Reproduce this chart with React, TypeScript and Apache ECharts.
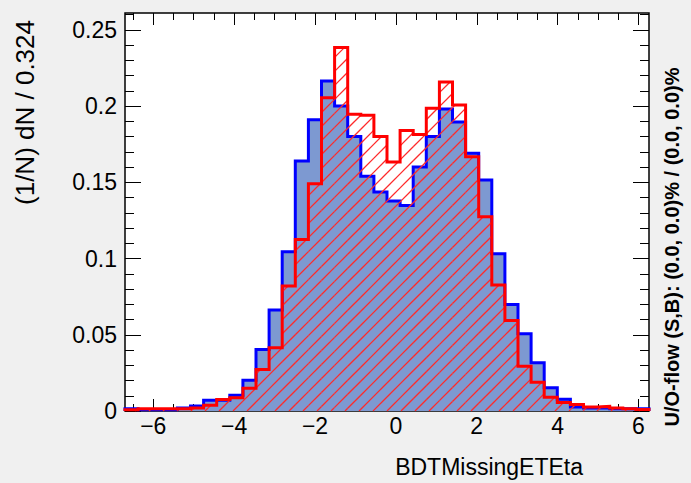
import React, { useEffect, useRef } from "react";
import * as echarts from "echarts";

// Histogram binning: 40 bins of width 0.324
const X_MIN = -6.7;
const BIN_WIDTH = 0.324;
const N_BINS = 40;
const X_MAX = X_MIN + N_BINS * BIN_WIDTH;
const Y_MAX = 0.261;

// Normalised bin contents, signal (blue, filled)
const SIGNAL = [
  0.0015, 0.0008, 0.0008, 0.0008, 0.002, 0.0032, 0.007, 0.007, 0.0104, 0.0202,
  0.0404, 0.0662, 0.1044, 0.164, 0.191, 0.2164, 0.2, 0.18, 0.154, 0.1436,
  0.1377, 0.1348, 0.16, 0.18, 0.198, 0.1895, 0.169, 0.1515, 0.1031, 0.0699,
  0.0506, 0.0316, 0.0152, 0.0077, 0.0027, 0.002, 0.002, 0.0015, 0.0015, 0.0015,
];

// Normalised bin contents, background (red, hatched)
const BACKGROUND = [
  0.0008, 0.0015, 0.0015, 0.0015, 0.0015, 0.002, 0.0038, 0.0075, 0.0087, 0.015,
  0.0272, 0.0415, 0.0819, 0.1125, 0.149, 0.2055, 0.2383, 0.1946, 0.1939, 0.18,
  0.1633, 0.184, 0.1814, 0.1985, 0.2158, 0.2007, 0.1668, 0.1274, 0.0826, 0.0594,
  0.0294, 0.0189, 0.009, 0.0055, 0.0043, 0.0027, 0.003, 0.002, 0.0015, 0.001,
];

const X_MAJOR = [-6, -4, -2, 0, 2, 4, 6];
const X_MINOR = [
  -6.5, -5.5, -5, -4.5, -3.5, -3, -2.5, -1.5, -1, -0.5,
  0.5, 1, 1.5, 2.5, 3, 3.5, 4.5, 5, 5.5,
];
const Y_MAJOR = [0, 0.05, 0.1, 0.15, 0.2, 0.25];
const Y_MINOR = [
  0.01, 0.02, 0.03, 0.04, 0.06, 0.07, 0.08, 0.09, 0.11, 0.12, 0.13, 0.14,
  0.16, 0.17, 0.18, 0.19, 0.21, 0.22, 0.23, 0.24, 0.26,
];

const Y_TITLE = "(1/N) dN / 0.324";
const X_TITLE = "BDTMissingETEta";
const OVERFLOW_TEXT = "U/O-flow (S,B): (0.0, 0.0)% / (0.0, 0.0)%";

const FONT = "'Liberation Sans', Arial, Helvetica, sans-serif";
const SIG_FILL = "#7d99d1";
const SIG_LINE = "#0000ff";
const BKG_LINE = "#ff0000";
const HATCH_COLOR = "#ff2a2a";
const HATCH_STEP = 14; // px between hatch lines, measured horizontally

const EDGES = Array.from({ length: N_BINS + 1 }, (_, k) => X_MIN + k * BIN_WIDTH);

// Step outline points: left edge of each bin at its content, closed down to zero at both ends
function outline(vals: number[]): number[][] {
  const pts: number[][] = [[EDGES[0], 0]];
  vals.forEach((v, k) => pts.push([EDGES[k], v]));
  pts.push([EDGES[N_BINS], vals[N_BINS - 1]]);
  pts.push([EDGES[N_BINS], 0]);
  return pts;
}

const fmtX = (v: number) => (v < 0 ? "\u2212" + Math.abs(v) : String(v));

function tickAxis(kind: "x" | "y", position: string, values: number[], length: number, labels: boolean) {
  return {
    type: "value",
    position,
    min: kind === "x" ? X_MIN : 0,
    max: kind === "x" ? X_MAX : Y_MAX,
    axisLine: { show: false, onZero: false },
    splitLine: { show: false },
    axisTick: {
      show: true,
      inside: true,
      length,
      customValues: values,
      lineStyle: { color: "#000", width: 1 },
    },
    axisLabel: labels
      ? {
          show: true,
          customValues: values,
          color: "#000",
          fontFamily: FONT,
          fontSize: 23,
          margin: kind === "x" ? 3 : 8,
          formatter: kind === "x" ? fmtX : (v: number) => String(v),
        }
      : { show: false },
  } as any;
}

export default function App() {
  const ref = useRef<HTMLDivElement>(null);

  useEffect(() => {
    if (!ref.current) return;
    const chart = echarts.init(ref.current, null, { renderer: "svg" });

    const option: any = {
      animation: false,
      backgroundColor: "#f0f0f0",
      grid: {
        left: 125,
        top: 13,
        right: 42,
        bottom: 72,
        show: true,
        backgroundColor: "#ffffff",
        borderColor: "#000",
        borderWidth: 1.5,
        containLabel: false,
      },
      xAxis: [
        tickAxis("x", "bottom", X_MAJOR, 12, true),
        tickAxis("x", "bottom", X_MINOR, 7, false),
        tickAxis("x", "top", X_MAJOR, 12, false),
        tickAxis("x", "top", X_MINOR, 7, false),
      ],
      yAxis: [
        tickAxis("y", "left", Y_MAJOR, 16, true),
        tickAxis("y", "left", Y_MINOR, 9, false),
        tickAxis("y", "right", Y_MAJOR, 16, false),
        tickAxis("y", "right", Y_MINOR, 9, false),
      ],
      series: [
        {
          id: "signal",
          type: "line",
          step: "end",
          xAxisIndex: 0,
          yAxisIndex: 0,
          data: outline(SIGNAL),
          symbol: "none",
          lineStyle: { color: SIG_LINE, width: 3, join: "miter" },
          areaStyle: { color: SIG_FILL, opacity: 1 },
          z: 2,
        },
        {
          id: "bkgHatch",
          type: "lines",
          coordinateSystem: "cartesian2d",
          xAxisIndex: 0,
          yAxisIndex: 0,
          data: [],
          lineStyle: { color: HATCH_COLOR, width: 1.3, opacity: 1, curveness: 0 },
          z: 3,
        },
        {
          id: "background",
          type: "line",
          step: "end",
          xAxisIndex: 0,
          yAxisIndex: 0,
          data: outline(BACKGROUND),
          symbol: "none",
          lineStyle: { color: BKG_LINE, width: 3, join: "miter" },
          z: 4,
        },
      ],
      graphic: [
        {
          type: "text",
          x: 25,
          y: 20,
          rotation: Math.PI / 2,
          style: {
            text: Y_TITLE,
            fontFamily: FONT,
            fontSize: 26,
            fill: "#000",
            textAlign: "right",
            textVerticalAlign: "middle",
          },
        },
        {
          type: "text",
          x: 583,
          y: 467,
          style: {
            text: X_TITLE,
            fontFamily: FONT,
            fontSize: 23,
            fill: "#000",
            textAlign: "right",
            textVerticalAlign: "middle",
          },
        },
        {
          type: "text",
          x: 672,
          y: 247,
          rotation: Math.PI / 2,
          style: {
            text: OVERFLOW_TEXT,
            fontFamily: FONT,
            fontSize: 20,
            fontWeight: "bold",
            fill: "#000",
            textAlign: "center",
            textVerticalAlign: "middle",
          },
        },
      ],
    };

    chart.setOption(option);

    // 45 degree hatching of the background histogram: lines x + y = c on a
    // fixed pixel grid, clipped to every bin and mapped back to data space.
    const finder = { xAxisIndex: 0, yAxisIndex: 0 };
    const hatch: any[] = [];
    BACKGROUND.forEach((v, k) => {
      const tl = chart.convertToPixel(finder, [EDGES[k], v]) as number[];
      const br = chart.convertToPixel(finder, [EDGES[k + 1], 0]) as number[];
      const left = tl[0];
      const top = tl[1];
      const right = br[0];
      const bottom = br[1];
      for (
        let c = Math.ceil((left + top) / HATCH_STEP) * HATCH_STEP;
        c <= right + bottom;
        c += HATCH_STEP
      ) {
        const ya = Math.max(top, c - right);
        const yb = Math.min(bottom, c - left);
        if (yb > ya) {
          hatch.push({
            coords: [
              chart.convertFromPixel(finder, [c - ya, ya]),
              chart.convertFromPixel(finder, [c - yb, yb]),
            ],
          });
        }
      }
    });
    chart.setOption({ series: [{ id: "bkgHatch", data: hatch }] });

    return () => chart.dispose();
  }, []);

  return (
    <div
      ref={ref}
      style={{ position: "fixed", left: 0, top: 0, width: 691, height: 483 }}
    />
  );
}
